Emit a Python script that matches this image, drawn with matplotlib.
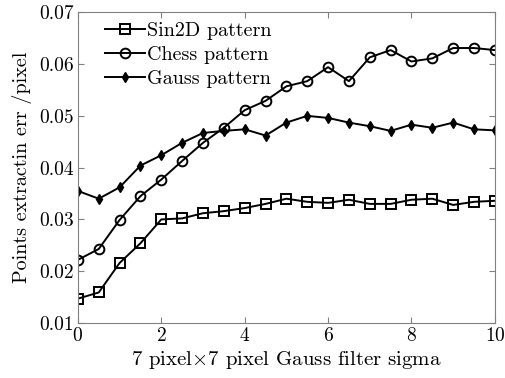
import numpy as np
import matplotlib
matplotlib.use('Agg')
import matplotlib.pyplot as plt

sigma = [0, 0.5, 1, 1.5, 2, 2.5, 3, 3.5, 4, 4.5, 5, 5.5, 6, 6.5, 7, 7.5, 8, 8.5, 9, 9.5, 10]

sin2d = [0.0147, 0.0159, 0.0216, 0.0254, 0.0300, 0.0302, 0.0312, 0.0316, 0.0322, 0.0330,
         0.0340, 0.0334, 0.0332, 0.0338, 0.0330, 0.0330, 0.0338, 0.0340, 0.0328, 0.0334, 0.0336]

chess = [0.0222, 0.0243, 0.0299, 0.0345, 0.0377, 0.0413, 0.0448, 0.0477, 0.0511, 0.0529,
         0.0557, 0.0567, 0.0594, 0.0567, 0.0613, 0.0627, 0.0605, 0.0611, 0.0631, 0.0631, 0.0627]

gauss = [0.0355, 0.0340, 0.0362, 0.0404, 0.0424, 0.0448, 0.0467, 0.0471, 0.0474, 0.0462,
         0.0487, 0.0500, 0.0496, 0.0487, 0.0480, 0.0471, 0.0483, 0.0477, 0.0487, 0.0474, 0.0472]

plt.rcParams['font.family'] = ['cmr10', 'DejaVu Serif']
plt.rcParams['mathtext.fontset'] = 'cm'
plt.rcParams['axes.formatter.use_mathtext'] = True

fig = plt.figure(figsize=(5.06, 3.78), dpi=100)
ax = fig.add_axes([0.154, 0.1455, 0.824, 0.822])

ax.plot(sigma, sin2d, 'k-', marker='s', ms=6.5, mfc='none', mew=1.4, lw=1.4, label='Sin2D pattern')
ax.plot(sigma, chess, 'k-', marker='o', ms=7, mfc='none', mew=1.4, lw=1.4, label='Chess pattern')
ax.plot(sigma, gauss, 'k-', marker='d', ms=5, mfc='k', lw=1.4, label='Gauss pattern')

ax.set_xlim(0, 10)
ax.set_ylim(0.01, 0.07)
ax.set_xticks([0, 2, 4, 6, 8, 10])
ax.set_yticks([0.01, 0.02, 0.03, 0.04, 0.05, 0.06, 0.07])
ax.set_yticklabels(['0.01', '0.02', '0.03', '0.04', '0.05', '0.06', '0.07'])
ax.tick_params(direction='in', top=True, right=True, labelsize=14, color='#808080', length=4, pad=3)
for s in ax.spines.values():
    s.set_color('#808080')

ax.set_xlabel(r'7 pixel$\times$7 pixel Gauss filter sigma', fontsize=15, labelpad=3)
ax.set_ylabel('Points extractin err /pixel', fontsize=14.5, labelpad=5)

ax.legend(loc='upper left', frameon=False, fontsize=14.5, handlelength=2.0,
          handletextpad=0.1, labelspacing=0.28, borderaxespad=0.1, bbox_to_anchor=(0.04, 1.0))

fig.savefig('out.png', dpi=100)
